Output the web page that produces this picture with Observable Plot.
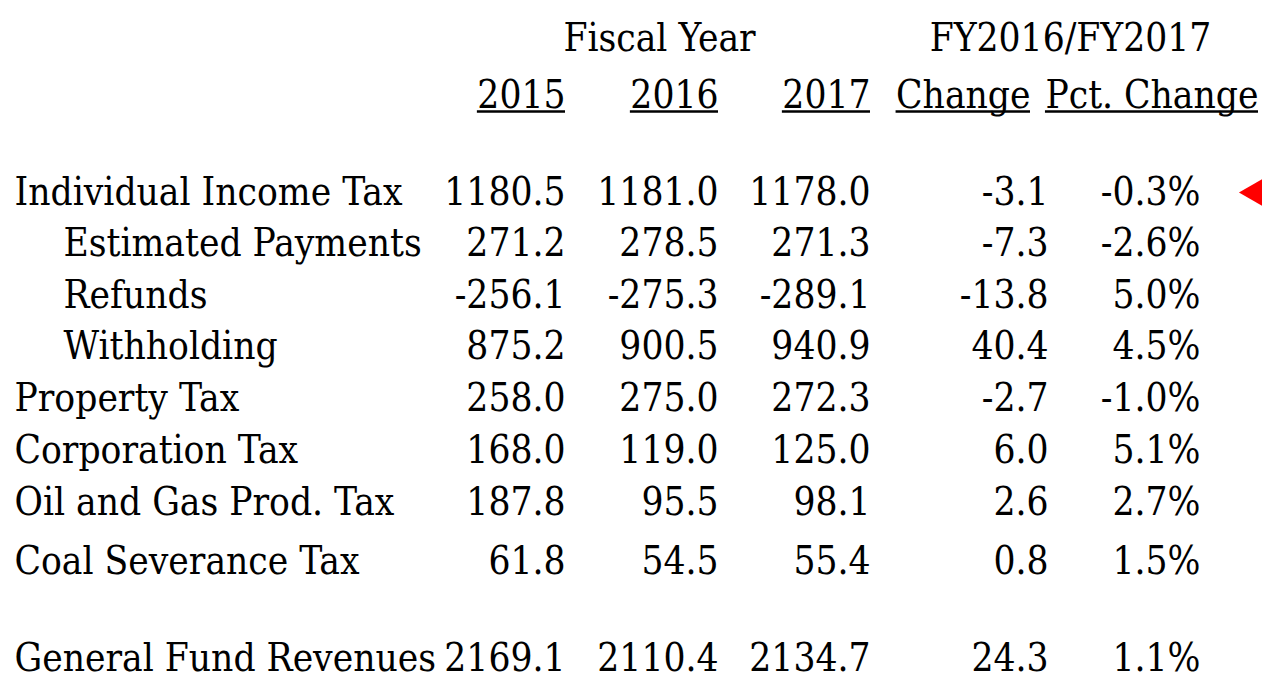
<!DOCTYPE html>
<html>
<head>
<meta charset="utf-8">
<script src="https://cdn.jsdelivr.net/npm/d3@7"></script>
<script src="https://cdn.jsdelivr.net/npm/@observablehq/plot@0.6"></script>
<style>
  html, body { margin: 0; padding: 0; background: #fff; }
  #chart svg { display: block; font-stretch: condensed; }
  #chart svg text { font-stretch: condensed; }
</style>
</head>
<body>
<div id="chart"></div>
<script>
// ---- data ----
const labels = ["Individual Income Tax", "Estimated Payments", "Refunds", "Withholding",
  "Property Tax", "Corporation Tax", "Oil and Gas Prod. Tax", "Coal Severance Tax", "General Fund Revenues"];
const indented = [false, true, true, true, false, false, false, false, false];
const fy2015 = [1180.5, 271.2, -256.1, 875.2, 258.0, 168.0, 187.8, 61.8, 2169.1];
const fy2016 = [1181.0, 278.5, -275.3, 900.5, 275.0, 119.0, 95.5, 54.5, 2110.4];
const fy2017 = [1178.0, 271.3, -289.1, 940.9, 272.3, 125.0, 98.1, 55.4, 2134.7];
const change = [-3.1, -7.3, -13.8, 40.4, -2.7, 6.0, 2.6, 0.8, 24.3];
const pctChange = [-0.3, -2.6, 5.0, 4.5, -1.0, 5.1, 2.7, 1.5, 1.1];
const columnHeaders = ["2015", "2016", "2017", "Change", "Pct. Change"];
const groupHeaders = ["Fiscal Year", "FY2016/FY2017"];
const highlighted = ["Individual Income Tax"];

// ---- layout (positions in the table's own coordinate space) ----
const W = 1262, H = 675;
const FONT_FAMILY = "DejaVu Serif", FONT_SIZE = 38.5;
const colRight = {"2015": 565, "2016": 718, "2017": 870, "Change": 1048, "Pct. Change": 1200};
const headerRight = {"2015": 565, "2016": 718, "2017": 870, "Change": 1030, "Pct. Change": 1258};
const groupCenter = {"Fiscal Year": 659, "FY2016/FY2017": 1070};
const rowY = [192, 243, 295, 346, 398, 450, 502, 561, 658];
const headerY = 95, groupY = 38, underlineOffset = 16;
const labelX = {main: 14, indent: 63};
const markerX = 1254;

// text width measurement for the header underlines (same condensed face as the SVG)
const ctx = document.createElement("canvas").getContext("2d");
ctx.font = `condensed ${FONT_SIZE}px "${FONT_FAMILY}"`;
if ("fontStretch" in ctx) ctx.fontStretch = "condensed";
const textWidth = s => ctx.measureText(s).width;

// ---- build tables ----
const series = [fy2015, fy2016, fy2017, change, pctChange];
const fmt = (v, c) => v.toFixed(1) + (c === "Pct. Change" ? "%" : "");
const cells = [];
labels.forEach((lab, i) => {
  columnHeaders.forEach((c, j) => {
    cells.push({x: colRight[c], y: rowY[i], text: fmt(series[j][i], c)});
  });
});
const rowLabels = labels.map((lab, i) => ({x: indented[i] ? labelX.indent : labelX.main, y: rowY[i], text: lab}));
const heads = columnHeaders.map(c => ({x: headerRight[c], y: headerY, text: c}));
const underlines = columnHeaders.map(c => ({x1: headerRight[c] - textWidth(c), x2: headerRight[c], y: headerY + underlineOffset}));
const groups = groupHeaders.map(g => ({x: groupCenter[g], y: groupY, text: g}));
const markers = highlighted.map(h => ({x: markerX, y: rowY[labels.indexOf(h)]}));

const font = {fontFamily: FONT_FAMILY, fontSize: FONT_SIZE, fill: "#000", lineAnchor: "middle"};

const chart = Plot.plot({
  width: W, height: H,
  margin: 0,
  x: {domain: [0, W], range: [0, W], axis: null},
  y: {domain: [0, H], range: [0, H], axis: null},
  style: {fontFamily: FONT_FAMILY, background: "#fff"},
  marks: [
    Plot.text(groups, {x: "x", y: "y", text: "text", textAnchor: "middle", ...font}),
    Plot.text(heads, {x: "x", y: "y", text: "text", textAnchor: "end", ...font}),
    Plot.ruleY(underlines, {x1: "x1", x2: "x2", y: "y", stroke: "#000", strokeWidth: 2.5}),
    Plot.text(rowLabels, {x: "x", y: "y", text: "text", textAnchor: "start", ...font}),
    Plot.text(cells, {x: "x", y: "y", text: "text", textAnchor: "end", ...font}),
    Plot.dot(markers, {x: "x", y: "y", symbol: "triangle", rotate: -90, r: 10, fill: "#ff0000", stroke: "none"})
  ]
});
document.getElementById("chart").append(chart);
</script>
</body>
</html>
